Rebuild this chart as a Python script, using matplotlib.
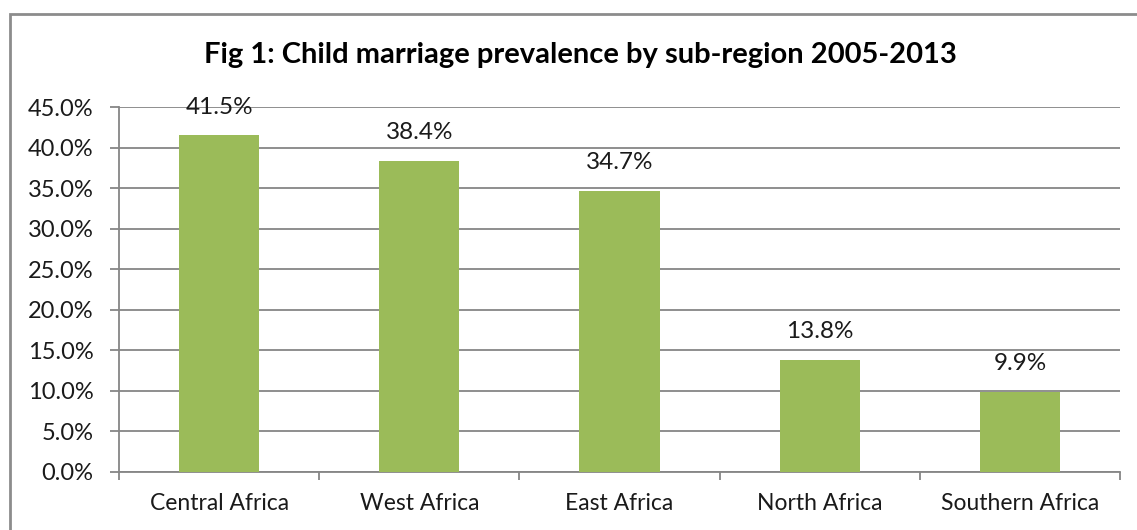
import matplotlib
matplotlib.use("Agg")
import matplotlib.pyplot as plt
from matplotlib.patches import Rectangle
from matplotlib.ticker import FuncFormatter, MultipleLocator

regions = ["Central Africa", "West Africa", "East Africa", "North Africa", "Southern Africa"]
prevalence = [41.5, 38.4, 34.7, 13.8, 9.9]

plt.rcParams["font.family"] = ["Lato", "DejaVu Sans"]

fig = plt.figure(figsize=(11.37, 5.30), dpi=100)
ax = fig.add_axes([119 / 1137, 1 - 472 / 530, 1001 / 1137, 365 / 530])

x = range(len(regions))
bars = ax.bar(x, prevalence, width=0.4, color="#9BBB59", zorder=3)
for b, v in zip(bars, prevalence):
    ax.text(b.get_x() + b.get_width() / 2, v + 2.2, f"{v:.1f}%",
            ha="center", va="bottom", fontsize=17.5, color="#1a1a1a")

ax.set_xlim(-0.5, len(regions) - 0.5)
ax.set_ylim(0, 45)
ax.yaxis.set_major_locator(MultipleLocator(5))
ax.yaxis.set_major_formatter(FuncFormatter(lambda v, _: f"{v:.1f}%"))
ax.grid(axis="y", color="#868686", linewidth=1.3, zorder=0)

ax.set_xticks(x)
ax.set_xticklabels(regions)
ax.set_xticks([i - 0.5 for i in range(len(regions) + 1)], minor=True)
ax.tick_params(axis="x", which="major", length=0, pad=15, labelsize=16.5, labelcolor="#1a1a1a")
ax.tick_params(axis="x", which="minor", length=6, width=1.3, color="#868686")
ax.tick_params(axis="y", length=6.5, width=1.3, color="#868686", labelsize=17, pad=12,
               labelcolor="#1a1a1a")

for side in ["top", "right"]:
    ax.spines[side].set_visible(False)
for side in ["left", "bottom"]:
    ax.spines[side].set_color("#868686")
    ax.spines[side].set_linewidth(1.3)

fig.text(580 / 1137, 1 - 55 / 530, "Fig 1: Child marriage prevalence by sub-region 2005-2013",
         ha="center", va="center", fontsize=21, fontweight="bold")

fig.patches.append(Rectangle((10 / 1137, -0.1), 1.2, 1 - 14 / 530 + 0.1,
                             transform=fig.transFigure, fill=False,
                             edgecolor="#8c8c8c", linewidth=2))

fig.savefig("out.png", dpi=100)
